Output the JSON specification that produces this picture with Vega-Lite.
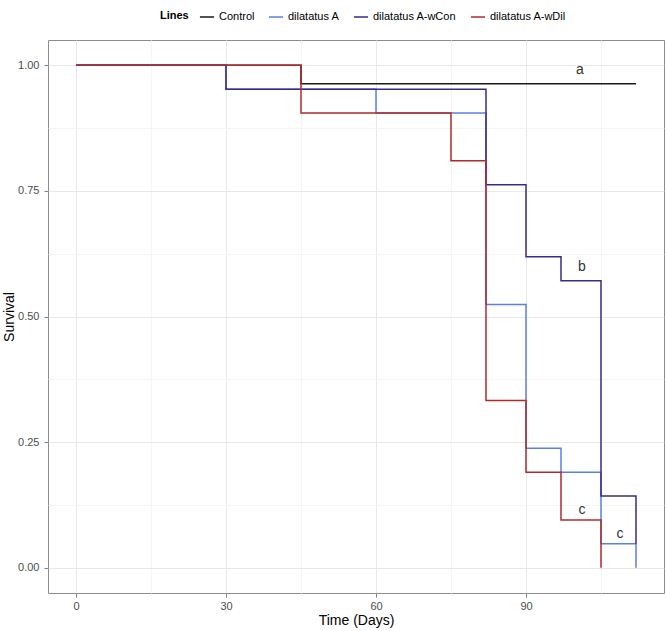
{
  "$schema": "https://vega.github.io/schema/vega-lite/v6.json",
  "width": 616,
  "height": 553,
  "autosize": "none",
  "padding": {"left": 48, "top": 40, "right": 2, "bottom": 38},
  "background": "white",
  "config": {
    "font": "Liberation Sans",
    "view": {"stroke": "#8c8c8c", "strokeWidth": 1},
    "axis": {"domain": false, "labelColor": "#4d4d4d", "labelFontSize": 11, "titleFontSize": 14, "titleFontWeight": "normal", "titleColor": "#000", "tickColor": "#7f7f7f", "tickSize": 4, "labelPadding": 3}
  },
  "layer": [
    {
      "data": {"values": [
        {"series": "Control", "t": 0, "s": 1},
        {"series": "Control", "t": 45, "s": 0.963},
        {"series": "Control", "t": 112, "s": 0.963},
        {"series": "dilatatus A", "t": 0, "s": 1},
        {"series": "dilatatus A", "t": 30, "s": 0.952},
        {"series": "dilatatus A", "t": 60, "s": 0.905},
        {"series": "dilatatus A", "t": 82, "s": 0.524},
        {"series": "dilatatus A", "t": 90, "s": 0.238},
        {"series": "dilatatus A", "t": 97, "s": 0.19},
        {"series": "dilatatus A", "t": 105, "s": 0.048},
        {"series": "dilatatus A", "t": 112, "s": 0},
        {"series": "dilatatus A-wCon", "t": 0, "s": 1},
        {"series": "dilatatus A-wCon", "t": 30, "s": 0.952},
        {"series": "dilatatus A-wCon", "t": 82, "s": 0.762},
        {"series": "dilatatus A-wCon", "t": 90, "s": 0.619},
        {"series": "dilatatus A-wCon", "t": 97, "s": 0.571},
        {"series": "dilatatus A-wCon", "t": 105, "s": 0.143},
        {"series": "dilatatus A-wCon", "t": 112, "s": 0.048},
        {"series": "dilatatus A-wDil", "t": 0, "s": 1},
        {"series": "dilatatus A-wDil", "t": 45, "s": 0.905},
        {"series": "dilatatus A-wDil", "t": 75, "s": 0.81},
        {"series": "dilatatus A-wDil", "t": 82, "s": 0.333},
        {"series": "dilatatus A-wDil", "t": 90, "s": 0.19},
        {"series": "dilatatus A-wDil", "t": 97, "s": 0.095},
        {"series": "dilatatus A-wDil", "t": 105, "s": 0}
      ]},
      "mark": {"type": "line", "interpolate": "step-after", "strokeWidth": 1.5},
      "encoding": {
        "x": {"field": "t", "type": "quantitative", "title": "Time (Days)",
          "scale": {"domain": [-5.6, 117.6], "nice": false, "zero": false},
          "axis": {"values": [0, 15, 30, 45, 60, 75, 90, 105],
            "labelExpr": "datum.value % 30 === 0 ? datum.label : ''",
            "tickOpacity": {"condition": {"test": "datum.value % 30 !== 0", "value": 0}, "value": 1},
            "gridColor": {"condition": {"test": "datum.value % 30 !== 0", "value": "#f5f5f5"}, "value": "#e8e8e8"},
            "titlePadding": 2}},
        "y": {"field": "s", "type": "quantitative", "title": "Survival",
          "scale": {"domain": [-0.05, 1.05], "nice": false, "zero": false},
          "axis": {"values": [0, 0.125, 0.25, 0.375, 0.5, 0.625, 0.75, 0.875, 1],
            "labelExpr": "(datum.value * 4) % 1 === 0 ? format(datum.value, '.2f') : ''",
            "tickOpacity": {"condition": {"test": "(datum.value * 4) % 1 !== 0", "value": 0}, "value": 1},
            "gridColor": {"condition": {"test": "(datum.value * 4) % 1 !== 0", "value": "#f5f5f5"}, "value": "#e8e8e8"},
            "labelPadding": 5, "titleX": -32}},
        "color": {"field": "series", "type": "nominal", "title": "Lines",
          "scale": {"domain": ["Control", "dilatatus A", "dilatatus A-wCon", "dilatatus A-wDil"],
            "range": ["#1a1a1a", "#5b7fe3", "#3a2a8a", "#b22a2a"]},
          "legend": {"orient": "none", "legendX": 112, "legendY": -31, "direction": "horizontal",
            "titleOrient": "left", "titleFontWeight": "bold", "titleFontSize": 11, "titleColor": "#000",
            "labelFontSize": 11, "labelColor": "#000", "symbolType": "stroke", "symbolStrokeWidth": 1.5,
            "symbolSize": 200, "columnPadding": 10, "titlePadding": 10, "labelOffset": 4}}
      }
    },
    {
      "data": {"values": [
        {"t": 100.8, "s": 0.99, "lab": "a"},
        {"t": 101.2, "s": 0.598, "lab": "b"},
        {"t": 101.2, "s": 0.116, "lab": "c"},
        {"t": 108.8, "s": 0.068, "lab": "c"}
      ]},
      "mark": {"type": "text", "fontSize": 14, "color": "#333"},
      "encoding": {
        "x": {"field": "t", "type": "quantitative"},
        "y": {"field": "s", "type": "quantitative"},
        "text": {"field": "lab"}
      }
    }
  ]
}
